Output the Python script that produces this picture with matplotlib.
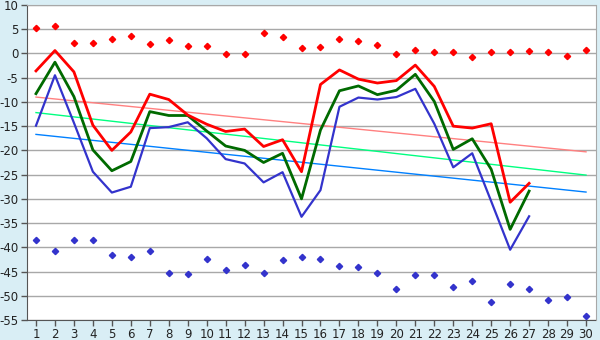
import numpy as np
import matplotlib
matplotlib.use('Agg')
import matplotlib.pyplot as plt

plt.rcParams['axes.unicode_minus'] = False

# --- Data ---
days = list(range(1, 31))
line_days = list(range(1, 28))

high_vals = [-3.6, 0.6, -3.8, -14.8, -20.0, -16.2, -8.4, -9.5, -12.7, -14.6,
             -16.1, -15.6, -19.2, -17.8, -24.4, -6.4, -3.4, -5.3, -6.1, -5.6,
             -2.4, -6.8, -15.0, -15.4, -14.5, -30.7, -26.8]
mid_vals = [-8.3, -1.8, -8.9, -19.9, -24.2, -22.3, -12.0, -12.8, -12.8, -16.0,
            -19.1, -20.0, -22.5, -20.6, -30.0, -15.8, -7.7, -6.7, -8.5, -7.6,
            -4.3, -9.9, -19.8, -17.6, -23.9, -36.3, -28.4]
low_vals = [-14.9, -4.5, -14.3, -24.4, -28.7, -27.5, -15.4, -15.2, -14.2, -17.5,
            -21.8, -22.7, -26.6, -24.5, -33.7, -28.2, -11.0, -9.1, -9.5, -9.0,
            -7.3, -14.5, -23.5, -20.6, -30.5, -40.5, -33.6]

max_points = [5.2, 5.7, 2.1, 2.1, 2.9, 3.6, 2.0, 2.7, 1.5, 1.5,
              -0.1, -0.1, 4.2, 3.4, 1.1, 1.3, 2.9, 2.5, 1.75, -0.1,
              0.65, 0.25, 0.25, -0.8, 0.25, 0.25, 0.45, 0.25, -0.6, 0.65]
min_points = [-38.5, -40.8, -38.5, -38.5, -41.6, -41.9, -40.8, -45.2, -45.6, -42.5,
              -44.7, -43.7, -45.4, -42.6, -42.1, -42.5, -43.9, -44.1, -45.2, -48.5,
              -45.8, -45.8, -48.2, -47.0, -51.3, -47.6, -48.5, -50.9, -50.3, -54.2]

# trend lines, start and end values (day 1 and day 30)
trend_days = [1, 30]
high_trend = [-9.0, -20.3]
mid_trend = [-12.2, -25.1]
low_trend = [-16.7, -28.6]

y_ticks = list(range(-55, 11, 5))

# --- Plot ---
fig = plt.figure(figsize=(6, 3.4), dpi=100, facecolor='#d9eef5')
ax = fig.add_axes([26.5 / 600, 20 / 340, 569 / 600, 315 / 340])
ax.set_facecolor('white')

for y in y_ticks:
    ax.axhline(y, color='#a8a8a8', lw=1, zorder=0)

ax.plot(trend_days, high_trend, color='#ff8080', lw=1, zorder=1)
ax.plot(trend_days, mid_trend, color='#00ff80', lw=1, zorder=1)
ax.plot(trend_days, low_trend, color='#0080ff', lw=1, zorder=1)

ax.plot(line_days, low_vals, color='#3333cc', lw=1.6, zorder=2)
ax.plot(line_days, mid_vals, color='#006a00', lw=2, zorder=3)
ax.plot(line_days, high_vals, color='#ff0000', lw=2, zorder=4)

ax.plot(days, max_points, ls='none', marker='D', ms=3.2, color='#ff0000', mec='#ff0000', zorder=5)
ax.plot(days, min_points, ls='none', marker='D', ms=3.2, color='#3333cc', mec='#3333cc', zorder=5)

ax.set_xlim(0.5, 30.5)
ax.set_ylim(-55, 10)
ax.set_xticks(days)
ax.set_yticks(y_ticks)
ax.tick_params(axis='both', direction='out', length=4, width=1, color='#555555',
               labelsize=8.5, labelcolor='#222222', pad=2)

for side in ('top', 'right'):
    ax.spines[side].set_color('#a8a8a8')
for side in ('left', 'bottom'):
    ax.spines[side].set_color('#555555')

fig.savefig('out.png', dpi=100, facecolor=fig.get_facecolor())
